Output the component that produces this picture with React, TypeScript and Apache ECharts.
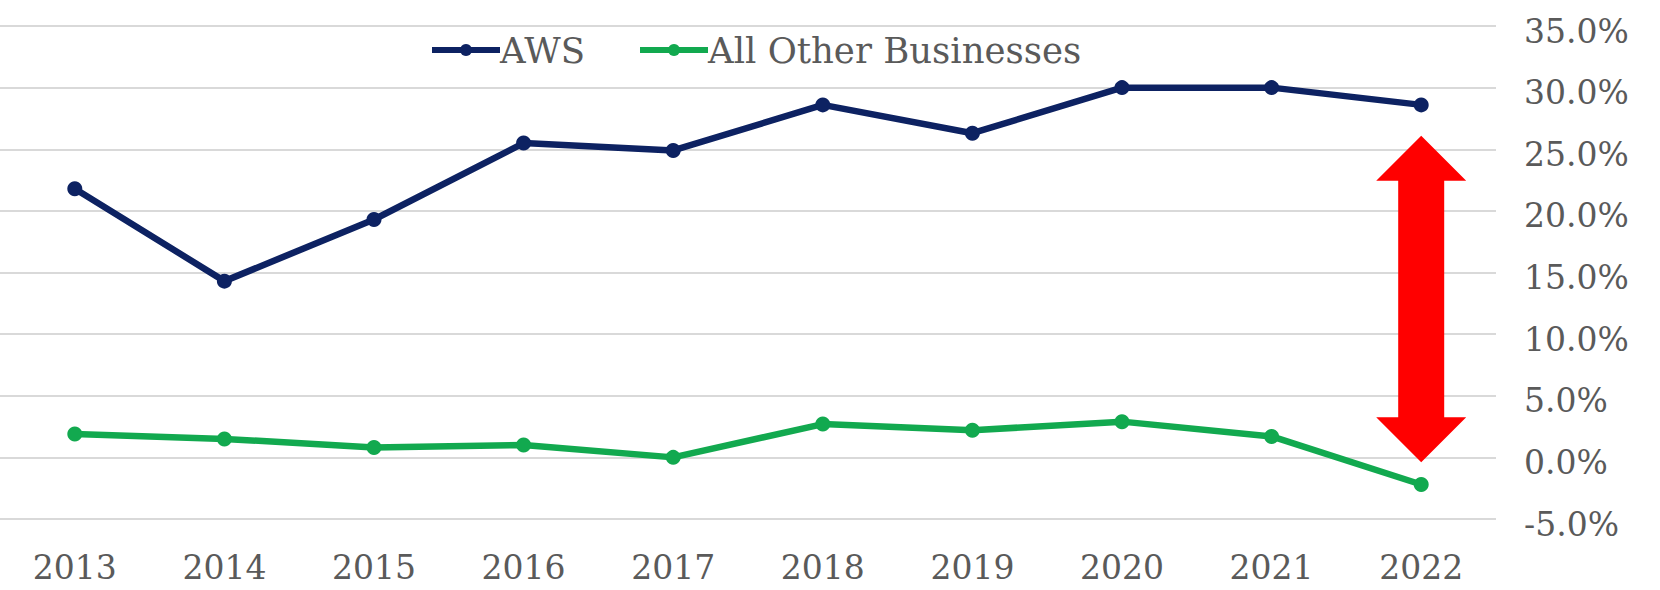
import React, { useEffect, useRef } from "react";
import * as echarts from "echarts";

const years = ["2013", "2014", "2015", "2016", "2017", "2018", "2019", "2020", "2021", "2022"];
const awsMargin = [21.8, 14.3, 19.3, 25.5, 24.9, 28.6, 26.3, 30.0, 30.0, 28.6];
const otherMargin = [1.9, 1.5, 0.8, 1.0, 0.0, 2.7, 2.2, 2.9, 1.7, -2.2];
const arrowCategory = "2022";
const arrowTop = 26.1;
const arrowBottom = -0.4;

const FONT = "DejaVu Serif";
const TEXT = "#5a5a5a";

export default function App() {
  const ref = useRef<HTMLDivElement>(null);
  useEffect(() => {
    const chart = echarts.init(ref.current!, null, { renderer: "svg" });
    chart.setOption({
      animation: false,
      backgroundColor: "#ffffff",
      legend: {
        top: 27,
        left: 424,
        itemWidth: 68,
        itemHeight: 15,
        itemGap: 52,
        lineStyle: { width: 6 },
        textStyle: { fontFamily: FONT, fontSize: 35.5, color: TEXT, padding: [0, 0, 0, -5] },
        data: ["AWS", "All Other Businesses"],
      },
      grid: { left: -14, right: 164, top: 26, bottom: 71 },
      xAxis: {
        type: "category",
        data: years,
        boundaryGap: true,
        axisLine: { show: false },
        axisTick: { show: false },
        axisLabel: { fontFamily: FONT, fontSize: 33, color: TEXT, margin: 32 },
      },
      yAxis: {
        type: "value",
        position: "right",
        min: -5,
        max: 35,
        interval: 5,
        axisLine: { show: false },
        axisTick: { show: false },
        splitLine: { lineStyle: { color: "#d9d9d9", width: 2 } },
        axisLabel: {
          fontFamily: FONT,
          fontSize: 33,
          color: TEXT,
          margin: 28,
          formatter: (v: number) => "{v|" + v.toFixed(1) + "%}",
          rich: {
            v: { fontFamily: FONT, fontSize: 33, color: TEXT, padding: [10, 0, 0, 0] },
          },
        },
      },
      series: [
        {
          name: "AWS",
          type: "line",
          data: awsMargin,
          color: "#0d2262",
          symbol: "circle",
          symbolSize: 15,
          lineStyle: { width: 6.5, color: "#0d2262" },
          itemStyle: { color: "#0d2262" },
        },
        {
          name: "All Other Businesses",
          type: "line",
          data: otherMargin,
          color: "#12a94f",
          symbol: "circle",
          symbolSize: 15,
          lineStyle: { width: 6.5, color: "#12a94f" },
          itemStyle: { color: "#12a94f" },
        },
      ],
    });
    const top = chart.convertToPixel({ gridIndex: 0 }, [arrowCategory, arrowTop]) as number[];
    const bot = chart.convertToPixel({ gridIndex: 0 }, [arrowCategory, arrowBottom]) as number[];
    const cx = top[0];
    const headH = 45;
    const headW = 45;
    const shaftW = 23;
    chart.setOption({
      graphic: [
        {
          type: "polygon",
          shape: {
            points: [
              [cx, top[1]],
              [cx + headW, top[1] + headH],
              [cx + shaftW, top[1] + headH],
              [cx + shaftW, bot[1] - headH],
              [cx + headW, bot[1] - headH],
              [cx, bot[1]],
              [cx - headW, bot[1] - headH],
              [cx - shaftW, bot[1] - headH],
              [cx - shaftW, top[1] + headH],
              [cx - headW, top[1] + headH],
            ],
          },
          style: { fill: "#ff0000" },
          z: 10,
        },
      ],
    });
    return () => chart.dispose();
  }, []);
  return (
    <div
      ref={ref}
      style={{ position: "absolute", left: 0, top: 0, width: 1660, height: 590 }}
    />
  );
}
